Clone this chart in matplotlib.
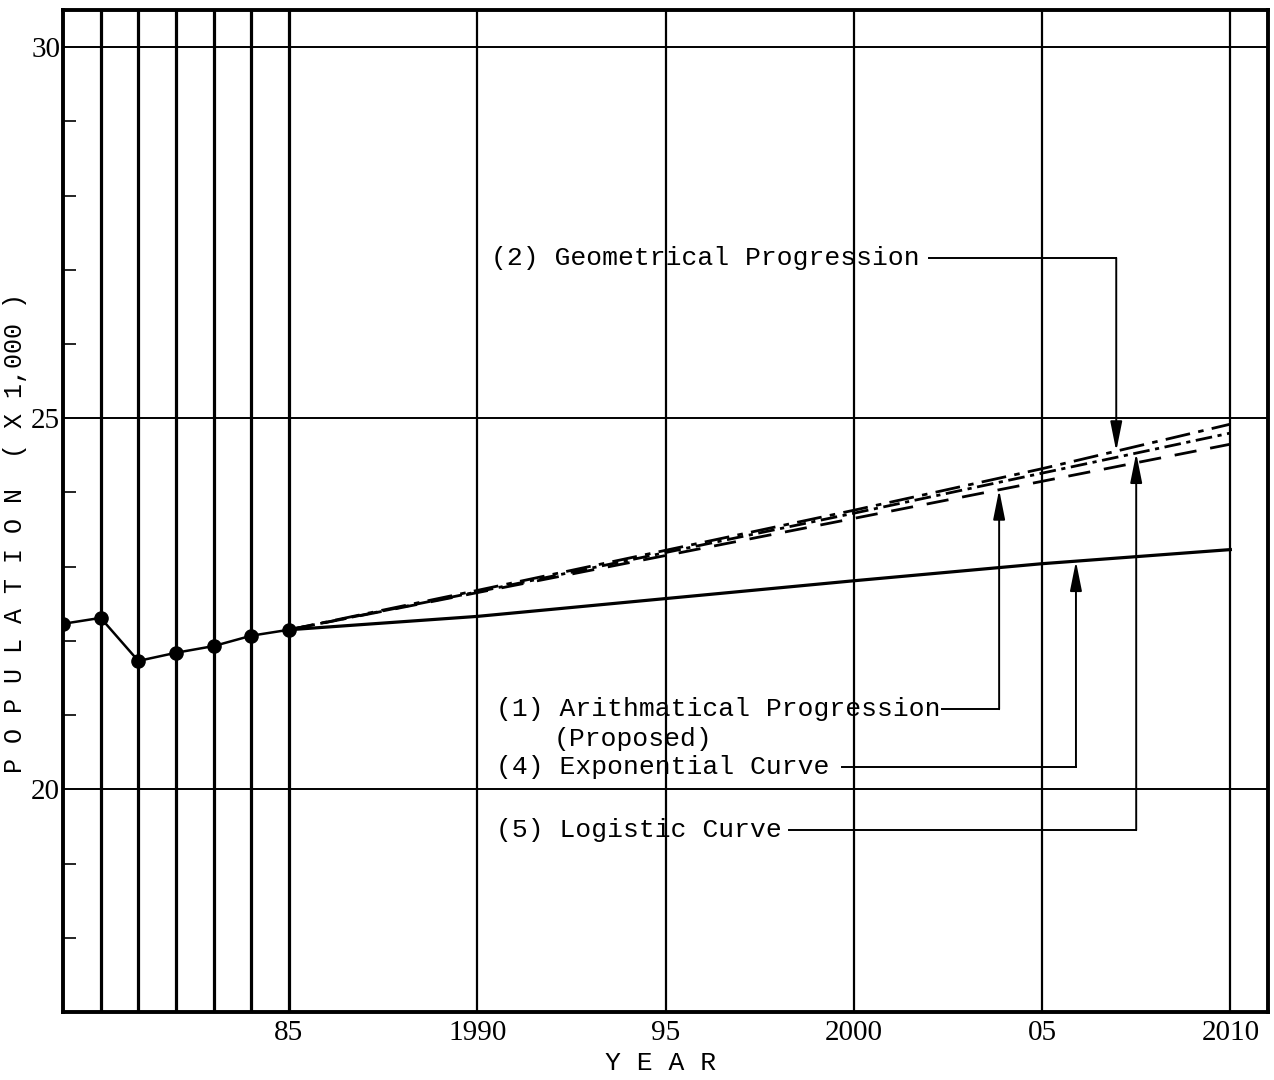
import numpy as np
import matplotlib
matplotlib.use("Agg")
import matplotlib.pyplot as plt

# observed population (x 1,000)
obs_years = [1979, 1980, 1981, 1982, 1983, 1984, 1985]
obs_pop = [22.23, 22.31, 21.73, 21.84, 21.93, 22.07, 22.15]

# projections 1985 - 2010
proj_years = [1985, 1990, 1995, 2000, 2005, 2010]
arith = [22.15, 22.65, 23.15, 23.65, 24.15, 24.65]
geom = [22.15, 22.68, 23.22, 23.76, 24.32, 24.92]
expo = [22.15, 22.33, 22.57, 22.81, 23.04, 23.23]
logis = [22.15, 22.66, 23.19, 23.72, 24.26, 24.80]

x_ticks = [1985, 1990, 1995, 2000, 2005, 2010]
x_labels = ['85', '1990', '95', '2000', '05', '2010']
y_ticks = [20, 25, 30]
y_minor = [18, 19, 21, 22, 23, 24, 26, 27, 28, 29]

mono = 'Liberation Mono'
serif = 'Liberation Serif'

fig = plt.figure(figsize=(12.74, 10.8), dpi=100)
ax = fig.add_axes([63/1274, 68/1080, 1205/1274, 1002/1080])
ax.set_xlim(1979, 2011)
ax.set_ylim(17, 30.5)

# grid lines
for yr in obs_years[1:]:
    ax.axvline(yr, color='black', lw=2.3, zorder=1)
for yr in x_ticks[1:]:
    ax.axvline(yr, color='black', lw=1.6, zorder=1)
for v in y_ticks:
    ax.axhline(v, color='black', lw=1.4, zorder=1)

for s in ax.spines.values():
    s.set_linewidth(2.8)

ax.set_xticks(x_ticks)
ax.set_xticklabels(x_labels, fontfamily=serif, fontsize=21)
ax.set_yticks(y_ticks)
ax.set_yticklabels([str(v) for v in y_ticks], fontfamily=serif, fontsize=21)
ax.set_yticks(y_minor, minor=True)
ax.tick_params(axis='x', length=0, pad=6)
ax.tick_params(axis='y', which='major', length=0, pad=2)
ax.tick_params(axis='y', which='minor', length=9, width=1.2, direction='in')

# observed
ax.plot(obs_years, obs_pop, color='black', lw=1.8, marker='o', ms=9.5, zorder=4)

# projections
ax.plot(proj_years, expo, color='black', lw=2.3, zorder=3)
ax.plot(proj_years, arith, color='black', lw=2.0, ls=(0, (8, 5)), zorder=3)
ax.plot(proj_years, geom, color='black', lw=2.0, ls=(0, (9, 3, 2, 3)), zorder=3)
ax.plot(proj_years, logis, color='black', lw=2.0, ls=(0, (6, 2, 1.5, 2)), zorder=3)

# labels with leader lines
tk = dict(fontfamily=mono, fontsize=19, va='center', ha='left')
ax.text(1990.37, 27.16, '(2) Geometrical Progression', **tk)
ax.text(1990.50, 21.08, '(1) Arithmatical Progression', **tk)
ax.text(1992.04, 20.68, '(Proposed)', **tk)
ax.text(1990.50, 20.30, '(4) Exponential Curve', **tk)
ax.text(1990.50, 19.45, '(5) Logistic Curve', **tk)

leaders = [
    (2002.0, 2006.97, 27.16, geom),
    (2002.34, 2003.86, 21.08, arith),
    (1999.69, 2005.90, 20.30, expo),
    (1998.28, 2007.50, 19.45, logis),
]
for x0, x1, yt, series in leaders:
    tip = np.interp(x1, proj_years, series)
    ax.plot([x0, x1], [yt, yt], color='black', lw=1.4, zorder=2)
    ax.annotate('', xy=(x1, tip), xytext=(x1, yt),
                arrowprops=dict(arrowstyle='-|>,head_length=0.9,head_width=0.18',
                                color='black', lw=1.4, shrinkA=0, shrinkB=0,
                                mutation_scale=20), zorder=2)

fig.text(15/1274, 1 - 533/1080, 'P O P U L A T I O N  ( X 1,000 )',
         rotation=90, fontfamily=mono, fontsize=18, ha='center', va='center')
fig.text(661/1274, 1 - 1063/1080, 'Y E A R', fontfamily=mono, fontsize=19,
         ha='center', va='center')

fig.savefig('out.png', dpi=100)
